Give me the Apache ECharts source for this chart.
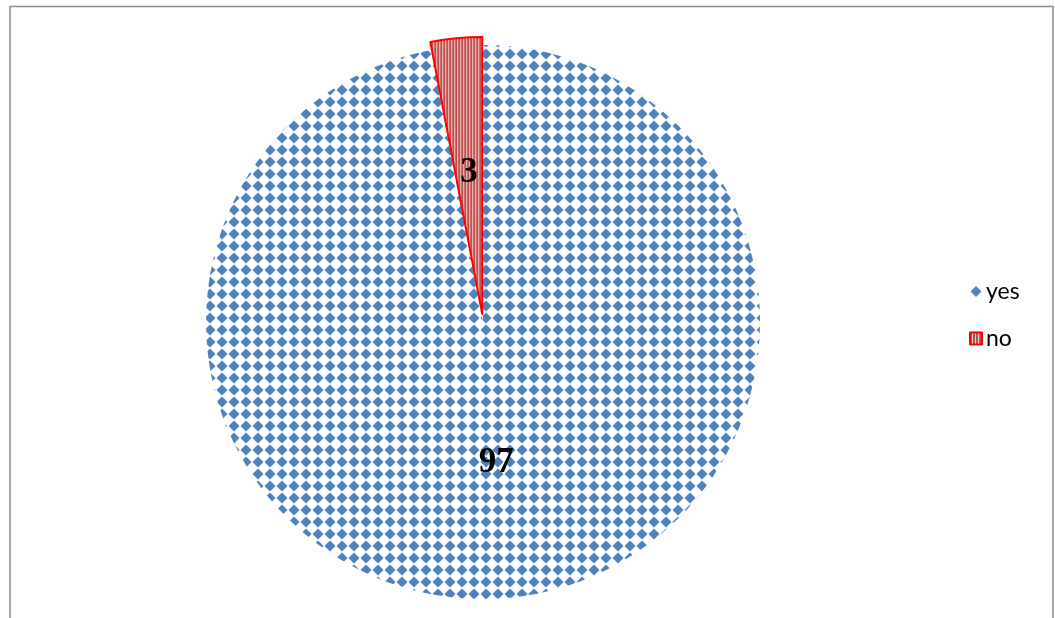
<!DOCTYPE html>
<html>
<head>
<meta charset="utf-8">
<script src="https://cdn.jsdelivr.net/npm/echarts@6/dist/echarts.min.js"></script>
<style>
html,body{margin:0;padding:0;background:#fff;}
#chart{width:1055px;height:618px;}
</style>
</head>
<body>
<div id="chart"></div>
<script>
const categories = ['yes', 'no'];
const values = [97, 3];

function diamondTile() {
  const P = 12;
  const c = document.createElement('canvas');
  c.width = P; c.height = P;
  const g = c.getContext('2d');
  g.fillStyle = '#ffffff';
  g.fillRect(0, 0, P, P);
  g.fillStyle = '#4F81BD';
  g.beginPath();
  g.moveTo(6, 0.5);
  g.lineTo(11.5, 6);
  g.lineTo(6, 11.5);
  g.lineTo(0.5, 6);
  g.closePath();
  g.fill();
  return c;
}
function stripeTile() {
  const c = document.createElement('canvas');
  c.width = 3; c.height = 4;
  const g = c.getContext('2d');
  g.fillStyle = '#C0504D';
  g.fillRect(0, 0, 2, 4);
  g.fillStyle = '#F2D0CF';
  g.fillRect(2, 0, 1, 4);
  return c;
}

const fills = [
  { image: diamondTile(), repeat: 'repeat' },
  { image: stripeTile(), repeat: 'repeat' }
];

const chart = echarts.init(document.getElementById('chart'));
const data = categories.map((name, i) => ({
  name: name,
  value: values[i],
  selected: name === 'no',
  itemStyle: name === 'no'
    ? { color: fills[i], borderColor: '#FF0000', borderWidth: 2 }
    : { color: fills[i], borderWidth: 0 }
}));

chart.setOption({
  animation: false,
  graphic: [{
    type: 'rect',
    shape: { x: 10, y: 6.5, width: 1043, height: 700 },
    style: { fill: 'none', stroke: '#8c8c8c', lineWidth: 1.5 },
    silent: true
  }],
  legend: {
    data: categories,
    orient: 'vertical',
    left: 964,
    top: 275,
    itemWidth: 12,
    itemHeight: 12,
    itemGap: 24,
    icon: 'rect',
    selectedMode: false,
    textStyle: { fontFamily: 'Lato', fontSize: 23, color: '#000', padding: [0, 0, 0, -1] }
  },
  series: [{
    type: 'pie',
    center: [483, 322],
    radius: 277,
    startAngle: 90,
    clockwise: true,
    selectedMode: 'single',
    selectedOffset: 8,
    avoidLabelOverlap: false,
    emphasis: { disabled: true },
    label: {
      show: true,
      position: 'inside',
      formatter: '{c}',
      fontFamily: 'Liberation Serif',
      fontWeight: 'bold',
      fontSize: 35,
      color: '#000'
    },
    labelLine: { show: false },
    data: data
  }]
});
</script>
</body>
</html>
